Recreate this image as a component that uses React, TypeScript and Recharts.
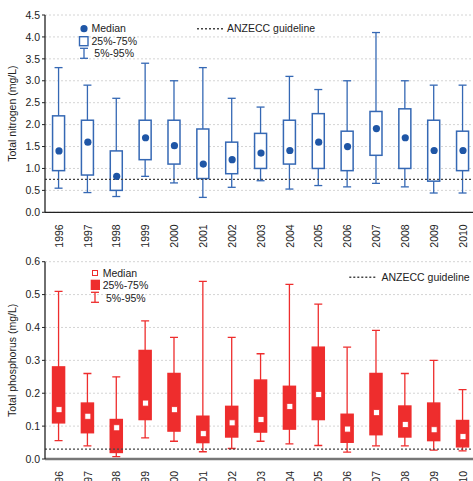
import { Bar, CartesianGrid, ComposedChart, ReferenceLine, Scatter, XAxis, YAxis } from 'recharts';

const years = [1996, 1997, 1998, 1999, 2000, 2001, 2002, 2003, 2004, 2005, 2006, 2007, 2008, 2009, 2010];

// total nitrogen, mg/L
const nitrogenLow = [0.55, 0.45, 0.36, 0.82, 0.67, 0.34, 0.57, 0.72, 0.53, 0.61, 0.58, 0.66, 0.58, 0.44, 0.44];
const nitrogenQ1 = [0.95, 0.85, 0.5, 1.2, 1.1, 0.77, 0.88, 1.0, 1.1, 1.0, 0.95, 1.3, 1.0, 0.71, 0.95];
const nitrogenMedian = [1.4, 1.6, 0.82, 1.7, 1.52, 1.1, 1.2, 1.35, 1.41, 1.6, 1.5, 1.91, 1.7, 1.41, 1.41];
const nitrogenQ3 = [2.2, 2.1, 1.4, 2.1, 2.1, 1.9, 1.6, 1.8, 2.1, 2.25, 1.85, 2.3, 2.36, 2.1, 1.85];
const nitrogenHigh = [3.3, 2.9, 2.6, 3.4, 3.0, 3.3, 2.6, 2.4, 3.1, 2.8, 3.0, 4.1, 3.0, 2.9, 2.9];
const nitrogenGuideline = 0.75;
const nitrogenTicks = [0, 0.5, 1, 1.5, 2, 2.5, 3, 3.5, 4, 4.5];

// total phosphorus, mg/L
const phosphorusLow = [0.056, 0.04, 0.007, 0.064, 0.054, 0.022, 0.032, 0.054, 0.046, 0.041, 0.021, 0.04, 0.04, 0.027, 0.025];
const phosphorusQ1 = [0.11, 0.08, 0.02, 0.12, 0.085, 0.05, 0.067, 0.082, 0.091, 0.12, 0.051, 0.074, 0.067, 0.056, 0.037];
const phosphorusMedian = [0.15, 0.13, 0.095, 0.17, 0.15, 0.077, 0.11, 0.12, 0.16, 0.196, 0.091, 0.141, 0.105, 0.089, 0.068];
const phosphorusQ3 = [0.28, 0.17, 0.12, 0.33, 0.26, 0.13, 0.16, 0.24, 0.221, 0.34, 0.136, 0.26, 0.161, 0.17, 0.117];
const phosphorusHigh = [0.51, 0.26, 0.25, 0.42, 0.37, 0.54, 0.37, 0.32, 0.531, 0.471, 0.34, 0.391, 0.26, 0.3, 0.211];
const phosphorusGuideline = 0.03;
const phosphorusTicks = [0, 0.1, 0.2, 0.3, 0.4, 0.5, 0.6];

const font = 'Arial, "Liberation Sans", sans-serif';
const yearDomain = [1995.515, 2010.347];
const blue = '#3568b4';
const blueDot = '#1f56a6';
const red = '#ee2d2d';

function buildRows(low: number[], q1: number[], median: number[], q3: number[], high: number[]) {
  return years.map((year, i) => ({
    year,
    whisker: [low[i], high[i]],
    box: [q1[i], q3[i]],
    median: median[i],
  }));
}

const nitrogenRows = buildRows(nitrogenLow, nitrogenQ1, nitrogenMedian, nitrogenQ3, nitrogenHigh);
const phosphorusRows = buildRows(phosphorusLow, phosphorusQ1, phosphorusMedian, phosphorusQ3, phosphorusHigh);

function makeWhisker(color: string) {
  return (props: any) => {
    const { x, y, width, height } = props;
    const top = Math.min(y, y + height);
    const bottom = Math.max(y, y + height);
    const cx = x + width / 2;
    return (
      <g stroke={color} strokeWidth={1.3}>
        <line x1={cx} y1={top} x2={cx} y2={bottom} />
        <line x1={x} y1={top} x2={x + width} y2={top} />
        <line x1={x} y1={bottom} x2={x + width} y2={bottom} />
      </g>
    );
  };
}

function makeBox(fill: string, stroke: string) {
  return (props: any) => {
    const { x, y, width, height } = props;
    return (
      <rect
        x={x}
        y={Math.min(y, y + height)}
        width={width}
        height={Math.abs(height)}
        fill={fill}
        stroke={stroke}
        strokeWidth={1.5}
      />
    );
  };
}

function YearTick({ x, y, payload }: any) {
  return (
    <text
      x={x}
      y={y}
      transform={`rotate(-90, ${x}, ${y})`}
      textAnchor="end"
      dy="0.36em"
      fontSize={10.5}
      fontFamily={font}
      fill="#222"
    >
      {payload.value}
    </text>
  );
}

// plot area is 197px tall in both panels
const PLOT_H = 197.3;

function BoxChart({
  rows,
  ticks,
  guideline,
  label,
  height,
  marginTop,
  topAxisColor,
  bottomAxisColor,
  bottomAxisWidth,
  whiskerColor,
  boxFill,
  boxStroke,
  medianShape,
}: {
  rows: any[];
  ticks: number[];
  guideline: number;
  label: string;
  height: number;
  marginTop: number;
  topAxisColor: string;
  bottomAxisColor: string;
  bottomAxisWidth: number;
  whiskerColor: string;
  boxFill: string;
  boxStroke: string;
  medianShape: (p: any) => any;
}) {
  return (
    <ComposedChart
      width={473}
      height={height}
      data={rows}
      margin={{ top: marginTop, right: 0, bottom: 0, left: 0 }}
      style={{ fontFamily: font }}
    >
      <CartesianGrid vertical={false} stroke="#d4d4d4" strokeDasharray="2 2" />
      <XAxis
        dataKey="year"
        type="number"
        domain={yearDomain}
        ticks={years}
        interval={0}
        height={height - marginTop - PLOT_H}
        axisLine={{ stroke: bottomAxisColor, strokeWidth: bottomAxisWidth }}
        tickLine={false}
        tickMargin={6}
        tick={<YearTick />}
        allowDataOverflow
      />
      <XAxis
        xAxisId="top"
        dataKey="year"
        orientation="top"
        type="number"
        domain={yearDomain}
        ticks={years}
        interval={0}
        height={0}
        tick={false}
        tickSize={2}
        axisLine={{ stroke: topAxisColor, strokeWidth: 1.6 }}
        tickLine={{ stroke: topAxisColor }}
        allowDataOverflow
      />
      <XAxis xAxisId="w" dataKey="year" type="number" domain={yearDomain} hide allowDataOverflow />
      <YAxis
        type="number"
        domain={[ticks[0], ticks[ticks.length - 1]]}
        ticks={ticks}
        interval={0}
        width={45}
        tickSize={3}
        tickFormatter={(v: number) => v.toFixed(1)}
        tick={{ fontSize: 10.5, fill: '#222', fontFamily: font }}
        axisLine={{ stroke: '#222', strokeWidth: 1.3 }}
        tickLine={{ stroke: '#222' }}
        label={{
          value: label,
          angle: -90,
          position: 'insideLeft',
          offset: 12,
          style: { textAnchor: 'middle', fontSize: 10.5, fill: '#222', fontFamily: font },
        }}
      />
      <Bar
        xAxisId="w"
        dataKey="whisker"
        barSize={8}
        shape={makeWhisker(whiskerColor)}
        isAnimationActive={false}
      />
      <Bar
        dataKey="box"
        barSize={12}
        shape={makeBox(boxFill, boxStroke)}
        isAnimationActive={false}
      />
      <Scatter dataKey="median" shape={medianShape} isAnimationActive={false} />
      <ReferenceLine y={guideline} stroke="#444" strokeWidth={1.4} strokeDasharray="2 2" />
    </ComposedChart>
  );
}

const dotShape = (p: any) => <circle cx={p.cx} cy={p.cy} r={3.6} fill={blueDot} />;
const squareShape = (p: any) => (
  <rect x={p.cx - 3} y={p.cy - 3} width={6} height={6} fill="#fff" stroke={red} strokeWidth={0.8} />
);

const textStyle = { fontSize: 10.5, fill: '#222', fontFamily: font };

export default function App() {
  return (
    <div style={{ position: 'absolute', left: 0, top: 0, width: 473, height: 481, background: '#fff', fontFamily: font }}>
      <div style={{ position: 'absolute', left: 0, top: 0 }}>
        <BoxChart
          rows={nitrogenRows}
          ticks={nitrogenTicks}
          guideline={nitrogenGuideline}
          label="Total nitrogen (mg/L)"
          height={250}
          marginTop={15}
          topAxisColor="#555"
          bottomAxisColor="#222"
          bottomAxisWidth={1.3}
          whiskerColor={blue}
          boxFill="#fff"
          boxStroke={blue}
          medianShape={dotShape}
        />
        <svg width={473} height={70} style={{ position: 'absolute', left: 0, top: 0 }}>
          <circle cx={84} cy={28.7} r={3.6} fill={blueDot} />
          <text x={91.5} y={28.7} dy="0.36em" {...textStyle}>Median</text>
          <rect x={79.5} y={36.7} width={8.5} height={9} fill="#fff" stroke={blue} strokeWidth={1.4} />
          <text x={91.5} y={41.2} dy="0.36em" {...textStyle}>25%-75%</text>
          <g stroke={blue} strokeWidth={1.3}>
            <line x1={84} y1={48.3} x2={84} y2={58.3} />
            <line x1={80} y1={48.3} x2={88} y2={48.3} />
            <line x1={80} y1={58.3} x2={88} y2={58.3} />
          </g>
          <text x={94.3} y={53.5} dy="0.36em" {...textStyle}>5%-95%</text>
          <line x1={197} y1={28.7} x2={223} y2={28.7} stroke="#444" strokeWidth={1.4} strokeDasharray="2 2" />
          <text x={227} y={28.7} dy="0.36em" {...textStyle}>ANZECC guideline</text>
        </svg>
      </div>
      <div style={{ position: 'absolute', left: 0, top: 240 }}>
        <BoxChart
          rows={phosphorusRows}
          ticks={phosphorusTicks}
          guideline={phosphorusGuideline}
          label="Total phosphorus (mg/L)"
          height={241}
          marginTop={21.7}
          topAxisColor="#222"
          bottomAxisColor="#777"
          bottomAxisWidth={2.5}
          whiskerColor={red}
          boxFill={red}
          boxStroke={red}
          medianShape={squareShape}
        />
        <svg width={473} height={70} style={{ position: 'absolute', left: 0, top: 0 }}>
          <rect x={92.5} y={30.5} width={5} height={5} fill="#fff" stroke={red} strokeWidth={1} />
          <text x={102.7} y={33} dy="0.36em" {...textStyle}>Median</text>
          <rect x={90.7} y={39.7} width={9.3} height={10.3} fill={red} />
          <text x={102.7} y={45.3} dy="0.36em" {...textStyle}>25%-75%</text>
          <g stroke={red} strokeWidth={1.3}>
            <line x1={95} y1={52.3} x2={95} y2={62.3} />
            <line x1={91} y1={52.3} x2={99} y2={52.3} />
            <line x1={91} y1={62.3} x2={99} y2={62.3} />
          </g>
          <text x={106} y={58} dy="0.36em" {...textStyle}>5%-95%</text>
          <line x1={349.3} y1={37.3} x2={375.3} y2={37.3} stroke="#444" strokeWidth={1.4} strokeDasharray="2 2" />
          <text x={381.5} y={37.3} dy="0.36em" {...textStyle}>ANZECC guideline</text>
        </svg>
      </div>
    </div>
  );
}
